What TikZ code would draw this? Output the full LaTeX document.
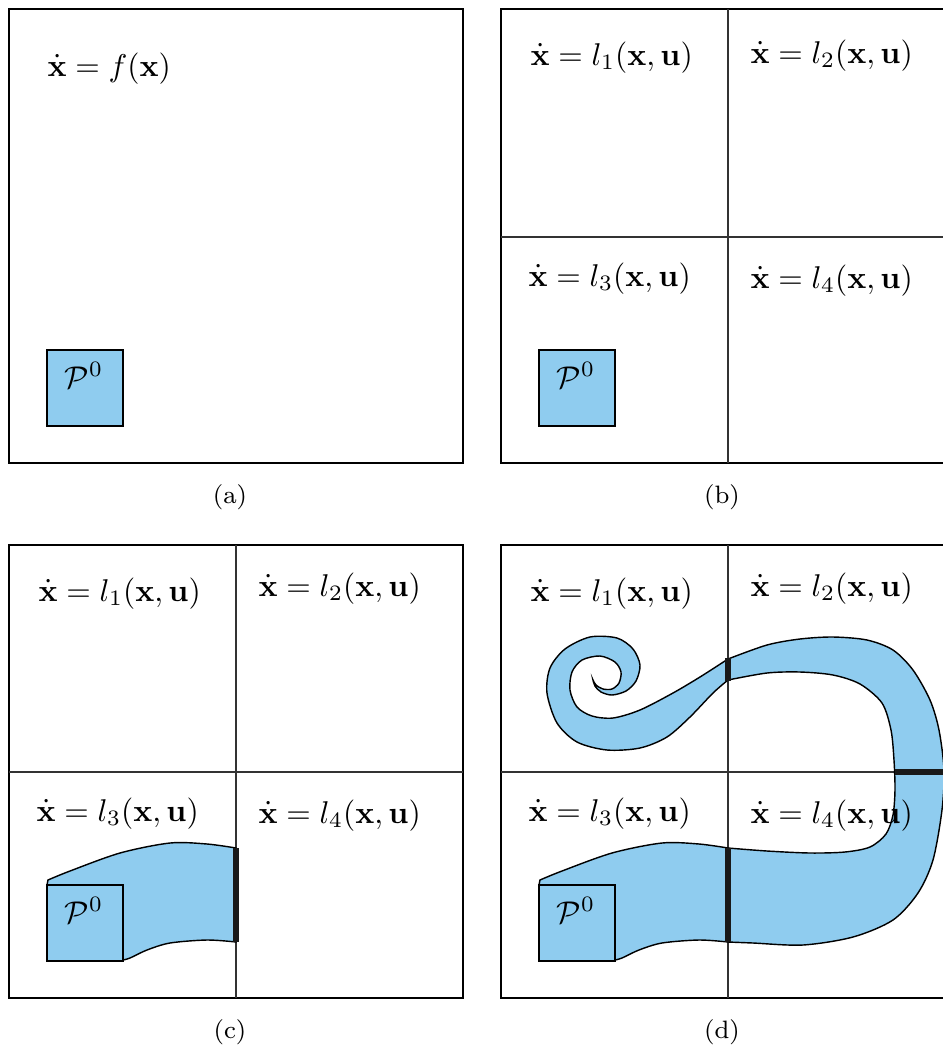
\documentclass[tikz,border=0pt]{standalone}
\usepackage{amsmath,amssymb}
\usepackage{bm}
\definecolor{setblue}{RGB}{143,204,239}

\begin{document}
\begin{tikzpicture}[
    x=0.318pt, y=-0.318pt,
    panel/.style={draw=black, line width=0.8pt},
    gridline/.style={draw=black!80, line width=0.4pt},
    seedbox/.style={rectangle, draw=black, line width=0.8pt, fill=setblue, minimum size=24.2pt, inner sep=0pt},
    band/.style={fill=setblue, draw=black, line width=0.45pt},
    gatebar/.style={draw=black!90, line width=1.7pt},
    eqn/.style={anchor=base west, inner sep=0pt},
    subcap/.style={anchor=base, inner sep=0pt, font=\footnotesize},
]
    \useasboundingbox (0,0) rectangle (943,1050);

    % (a) single dynamics
    \draw[panel] (9,9) rectangle (463,463);
    \node[eqn] (fa) at (47,76) {$\dot{\mathbf{x}} = f(\mathbf{x})$};
    \node[seedbox] (p0a) at (85,388) {};
    \node[eqn] (p0alab) at (64,388) {$\mathcal{P}^0$};
    \node[subcap] (capa) at (230,503) {(a)};

    % (b) partition into four modes
    \draw[panel] (501,9) rectangle (955,463);
    \draw[gridline] (728,9) -- (728,463);
    \draw[gridline] (501,237) -- (955,237);
    \node[eqn] (l1b) at (530,65) {$\dot{\mathbf{x}} = l_1(\mathbf{x},\mathbf{u})$};
    \node[eqn] (l2b) at (750,63) {$\dot{\mathbf{x}} = l_2(\mathbf{x},\mathbf{u})$};
    \node[eqn] (l3b) at (528,286) {$\dot{\mathbf{x}} = l_3(\mathbf{x},\mathbf{u})$};
    \node[eqn] (l4b) at (750,288) {$\dot{\mathbf{x}} = l_4(\mathbf{x},\mathbf{u})$};
    \node[seedbox] (p0b) at (577,388) {};
    \node[eqn] (p0blab) at (556,388) {$\mathcal{P}^0$};
    \node[subcap] (capb) at (722,503) {(b)};

    % (c) reach set up to the first guard
    \draw[panel] (9,545) rectangle (463,998);
    \draw[gridline] (236,545) -- (236,998);
    \draw[gridline] (9,772) -- (463,772);
    \node[eqn] (l1c) at (38,601) {$\dot{\mathbf{x}} = l_1(\mathbf{x},\mathbf{u})$};
    \node[eqn] (l2c) at (258,596) {$\dot{\mathbf{x}} = l_2(\mathbf{x},\mathbf{u})$};
    \node[eqn] (l3c) at (36,821) {$\dot{\mathbf{x}} = l_3(\mathbf{x},\mathbf{u})$};
    \node[eqn] (l4c) at (258,823) {$\dot{\mathbf{x}} = l_4(\mathbf{x},\mathbf{u})$};
    \filldraw[band] (47,885)
        -- plot[smooth] coordinates {(48,880) (70,871) (120,853) (170,843) (207,844) (236,848)}
        -- (236,942)
        -- plot[smooth] coordinates {(236,942) (207,940) (170,943) (147,950) (130,958) (123,960)}
        -- (47,960) -- cycle;
    \draw[gatebar] (236,848) -- (236,942);
    \node[seedbox] (p0c) at (85,923) {};
    \node[eqn] (p0clab) at (64,923) {$\mathcal{P}^0$};
    \node[subcap] (capc) at (230,1038) {(c)};

    % (d) full reach set through all modes
    \draw[panel] (501,545) rectangle (955,998);
    \draw[gridline] (728,545) -- (728,998);
    \draw[gridline] (501,772) -- (955,772);
    \filldraw[band] (539,885)
        -- plot[smooth] coordinates {(540,880) (562,871) (612,853) (662,843) (699,844) (728,848)}
        -- plot[smooth] coordinates {(728,848) (767,851) (810,853) (845,852) (870,847) (886,834) (893,815) (895,790) (894,760) (891,730) (882,703) (860,684) (833,675) (800,672) (767,673) (728,680)}
        -- plot[smooth] coordinates {(728,680) (713,693) (690,717) (667,737) (640,748) (607,750) (577,742) (557,723) (547,693) (550,668) (565,649) (590,637) (617,638) (633,649) (640,665) (636,681) (626,691) (612,695) (601,692) (595,686) (593,680)}
        -- plot[smooth] coordinates {(593,680) (596,685) (603,689) (612,689) (619,683) (621,672) (615,662) (600,656) (582,660) (572,672) (570,690) (577,707) (592,716) (613,718) (640,710) (673,693) (700,677) (728,659)}
        -- plot[smooth] coordinates {(728,659) (767,645) (800,639) (833,637) (867,640) (893,650) (913,670) (930,700) (939,730) (944,770) (942,810) (933,860) (918,893) (893,920) (853,937) (803,945) (753,943) (728,942)}
        -- plot[smooth] coordinates {(728,942) (699,940) (662,943) (639,950) (622,958) (615,960)}
        -- (539,960) -- cycle;
    \draw[gatebar] (728,848) -- (728,942);
    \draw[gatebar] (728,658) -- (728,681);
    \draw[gatebar] (895,772) -- (948,772);
    \node[eqn] (l1d) at (530,601) {$\dot{\mathbf{x}} = l_1(\mathbf{x},\mathbf{u})$};
    \node[eqn] (l2d) at (750,596) {$\dot{\mathbf{x}} = l_2(\mathbf{x},\mathbf{u})$};
    \node[eqn] (l3d) at (528,821) {$\dot{\mathbf{x}} = l_3(\mathbf{x},\mathbf{u})$};
    \node[eqn] (l4d) at (750,823) {$\dot{\mathbf{x}} = l_4(\mathbf{x},\mathbf{u})$};
    \node[seedbox] (p0d) at (577,923) {};
    \node[eqn] (p0dlab) at (556,923) {$\mathcal{P}^0$};
    \node[subcap] (capd) at (722,1038) {(d)};
\end{tikzpicture}
\end{document}
